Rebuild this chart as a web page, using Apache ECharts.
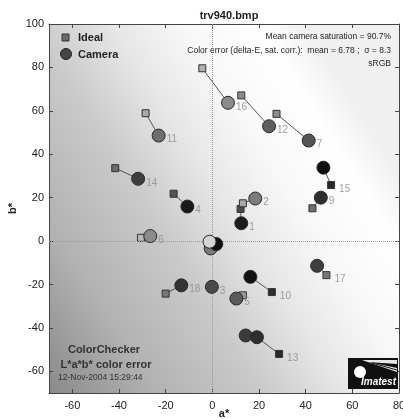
<!DOCTYPE html>
<html>
<head>
<meta charset="utf-8">
<script src="https://cdn.jsdelivr.net/npm/echarts@6/dist/echarts.min.js"></script>
<style>
  html, body { margin: 0; background: #fff; }
  #chart { width: 403px; height: 419px; }
</style>
</head>
<body>
<div id="chart"></div>
<script>
// ColorChecker patches (a*, b*)
const patchIds = [1, 2, 3, 4, 5, 6, 7, 8, 9, 10, 11, 12, 13, 14, 15, 16, 17, 18, 22, 24, 19];
const idealA  = [12.1, 13.1, 0.3, -16.6, 13.1, -30.6, 27.5, 14.0, 42.9, 25.5, -28.6, 12.4, 28.6, -41.6, 50.9, -4.3, 48.9, -20.0, 0, 0, 0];
const idealB  = [14.8, 17.4, -21.5, 21.8, -25.0, 1.5, 58.6, -43.0, 15.1, -23.5, 58.9, 67.1, -52.0, 33.6, 25.8, 79.6, -15.7, -24.2, 0, 0, 0];
const cameraA = [12.4, 18.4, -0.2, -10.7, 10.3, -26.6, 41.3, 14.3, 46.5, 16.3, -23.0, 24.3, 19.1, -31.8, 47.6, 6.7, 44.9, -13.3, -0.7, 1.7, -1.2];
const cameraB = [8.2, 19.6, -21.1, 15.9, -26.5, 2.3, 46.3, -43.5, 20.0, -16.5, 48.6, 52.9, -44.3, 28.7, 33.8, 63.7, -11.4, -20.4, -3.4, -1.4, -0.3];
// grey shade of each marker as printed
const idealShade  = ['#4a4a4a', '#a8a8a8', '#666666', '#555555', '#9a9a9a', '#b8b8b8', '#8c8c8c', '#333333', '#707070', '#2e2e2e', '#a8a8a8', '#8c8c8c', '#2a2a2a', '#6a6a6a', '#2a2a2a', '#b0b0b0', '#777777', '#777777', '#888888', '#222222', '#eeeeee'];
const cameraShade = ['#1c1c1c', '#7c7c7c', '#4a4a4a', '#1a1a1a', '#5a5a5a', '#8c8c8c', '#555555', '#3a3a3a', '#2e2e2e', '#111111', '#6e6e6e', '#5e5e5e', '#2e2e2e', '#3e3e3e', '#111111', '#8a8a8a', '#3e3e3e', '#333333', '#7a7a7a', '#111111', '#d4d4d4'];
// which patches get a number, and which of those sit next to the ideal square
const labelledPatches = [1, 2, 3, 4, 5, 6, 7, 9, 10, 11, 12, 13, 14, 15, 16, 17, 18];
const labelOnIdeal = [10, 13, 15, 17];

const FONT = "'Liberation Sans', Arial, sans-serif";

const chart = echarts.init(document.getElementById('chart'));

const idealData = patchIds.map((id, i) => ({
  value: [idealA[i], idealB[i]],
  itemStyle: { color: idealShade[i] }
}));
const cameraData = patchIds.map((id, i) => ({
  value: [cameraA[i], cameraB[i]],
  itemStyle: { color: cameraShade[i] }
}));
const linkData = patchIds.map((id, i) => ({
  coords: [[idealA[i], idealB[i]], [cameraA[i], cameraB[i]]]
}));
const labelData = labelledPatches.map(id => {
  const i = patchIds.indexOf(id);
  const onIdeal = labelOnIdeal.includes(id);
  return { value: onIdeal ? [idealA[i], idealB[i]] : [cameraA[i], cameraB[i]], name: String(id) };
});

const axisCommon = {
  type: 'value',
  axisLine: { show: true, onZero: false, lineStyle: { color: '#444', width: 1 } },
  axisTick: { show: true, inside: true, length: 4, lineStyle: { color: '#444' } },
  splitLine: { show: false }
};

chart.setOption({
  animation: false,
  title: {
    text: 'trv940.bmp',
    left: 224, top: 5, textAlign: 'center',
    textStyle: { fontFamily: FONT, fontSize: 11, fontWeight: 'bold', color: '#222' }
  },
  grid: {
    left: 49, right: 4, top: 24, bottom: 26,
    outerBoundsMode: 'none', containLabel: false,
    show: true, borderWidth: 0,
    backgroundColor: new echarts.graphic.LinearGradient(0, 1, 1, 0.4, [
      { offset: 0, color: '#8a8a8a' },
      { offset: 0.22, color: '#b2b2b2' },
      { offset: 0.44, color: '#cacaca' },
      { offset: 0.6, color: '#e6e6e6' },
      { offset: 0.75, color: '#f8f8f8' },
      { offset: 0.9, color: '#ffffff' },
      { offset: 1, color: '#f0f0f0' }
    ])
  },
  xAxis: [
    Object.assign({}, axisCommon, {
      min: -70, max: 80, splitNumber: 7, position: 'bottom',
      name: 'a*', nameLocation: 'middle', nameGap: 15, nameMoveOverlap: false,
      nameTextStyle: { fontFamily: FONT, fontSize: 11, fontWeight: 'bold', color: '#222' },
      axisLabel: { fontFamily: FONT, fontSize: 11, color: '#222', margin: 7,
        formatter: v => (v % 20 === 0 ? String(v) : '') }
    }),
    Object.assign({}, axisCommon, {
      min: -70, max: 80, splitNumber: 7, position: 'top', axisLabel: { show: false }
    })
  ],
  yAxis: [
    Object.assign({}, axisCommon, {
      min: -70, max: 100, splitNumber: 8, position: 'left',
      name: 'b*', nameLocation: 'middle', nameGap: 31, nameRotate: 90, nameMoveOverlap: false,
      nameTextStyle: { fontFamily: FONT, fontSize: 11, fontWeight: 'bold', color: '#222' },
      axisLabel: { fontFamily: FONT, fontSize: 11, color: '#222', margin: 5,
        formatter: v => (v % 20 === 0 ? String(v) : '') }
    }),
    Object.assign({}, axisCommon, {
      min: -70, max: 100, splitNumber: 8, position: 'right', axisLabel: { show: false }
    })
  ],
  series: [
    {
      // dotted zero lines
      type: 'scatter', data: [], silent: true,
      markLine: {
        silent: true, symbol: 'none', label: { show: false },
        lineStyle: { color: '#9a9a9a', type: 'dotted', width: 1 },
        data: [{ xAxis: 0 }, { yAxis: 0 }]
      }
    },
    {
      type: 'lines', coordinateSystem: 'cartesian2d', silent: true, z: 3,
      lineStyle: { color: '#555', width: 1, opacity: 1 },
      data: linkData
    },
    {
      name: 'Ideal', type: 'scatter', symbol: 'rect', symbolSize: 7, z: 4,
      itemStyle: { borderColor: '#333', borderWidth: 1, opacity: 1 },
      data: idealData
    },
    {
      name: 'Camera', type: 'scatter', symbol: 'circle', symbolSize: 13, z: 5,
      itemStyle: { borderColor: '#2a2a2a', borderWidth: 1, opacity: 1 },
      data: cameraData
    },
    {
      type: 'scatter', symbolSize: 0, z: 6, silent: true,
      label: {
        show: true, position: 'right', distance: 8, offset: [0, 4],
        formatter: p => p.name,
        fontFamily: FONT, fontSize: 10, color: '#8a8a8a'
      },
      data: labelData
    }
  ],
  graphic: [
    // legend
    { type: 'rect', shape: { x: 62, y: 34, width: 7, height: 7 },
      style: { fill: '#6a6a6a', stroke: '#333', lineWidth: 1 }, z: 10 },
    { type: 'text', x: 78, y: 38, style: { text: 'Ideal', fontFamily: FONT, fontSize: 11, fontWeight: 'bold',
      fill: '#222', textVerticalAlign: 'middle' }, z: 10 },
    { type: 'circle', shape: { cx: 66, cy: 54, r: 5.5 },
      style: { fill: '#444', stroke: '#222', lineWidth: 1 }, z: 10 },
    { type: 'text', x: 78, y: 55, style: { text: 'Camera', fontFamily: FONT, fontSize: 11, fontWeight: 'bold',
      fill: '#222', textVerticalAlign: 'middle' }, z: 10 },
    // notes top right
    { type: 'text', x: 391, y: 37, style: { text: 'Mean camera saturation = 90.7%', fontFamily: FONT, fontSize: 8.5,
      fill: '#222', textAlign: 'right', textVerticalAlign: 'middle' }, z: 10 },
    { type: 'text', x: 391, y: 51, style: { text: 'Color error (delta-E, sat. corr.):  mean = 6.78 ;  \u03c3 = 8.3', fontFamily: FONT, fontSize: 8.5,
      fill: '#222', textAlign: 'right', textVerticalAlign: 'middle' }, z: 10 },
    { type: 'text', x: 391, y: 64, style: { text: 'sRGB', fontFamily: FONT, fontSize: 8.5,
      fill: '#222', textAlign: 'right', textVerticalAlign: 'middle' }, z: 10 },
    // notes bottom left
    { type: 'text', x: 104, y: 350, style: { text: 'ColorChecker', fontFamily: FONT, fontSize: 11, fontWeight: 'bold',
      fill: '#333', textAlign: 'center', textVerticalAlign: 'middle' }, z: 10 },
    { type: 'text', x: 106, y: 365, style: { text: 'L*a*b* color error', fontFamily: FONT, fontSize: 11, fontWeight: 'bold',
      fill: '#333', textAlign: 'center', textVerticalAlign: 'middle' }, z: 10 },
    { type: 'text', x: 58, y: 378, style: { text: '12-Nov-2004 15:29:44', fontFamily: FONT, fontSize: 8.5,
      fill: '#333', textVerticalAlign: 'middle' }, z: 10 },
    // logo
    { type: 'rect', shape: { x: 348, y: 358, width: 50, height: 31 }, style: { fill: '#111' }, z: 10 },
    { type: 'polygon', shape: { points: [[362, 360], [397, 360], [397, 372]] }, style: { fill: '#e8e8e8' }, z: 11 },
    { type: 'polygon', shape: { points: [[368, 362], [397, 364], [397, 368]] }, style: { fill: '#111' }, z: 12 },
    { type: 'line', shape: { x1: 372, y1: 363, x2: 397, y2: 370 }, style: { stroke: '#111', lineWidth: 1 }, z: 12 },
    { type: 'circle', shape: { cx: 360, cy: 372, r: 6 }, style: { fill: '#fff' }, z: 12 },
    { type: 'text', x: 396, y: 387, style: { text: 'Imatest', fontFamily: FONT, fontSize: 10, fontWeight: 'bold',
      fontStyle: 'italic', fill: '#fff', textAlign: 'right', textVerticalAlign: 'bottom' }, z: 12 }
  ]
});
</script>
</body>
</html>
